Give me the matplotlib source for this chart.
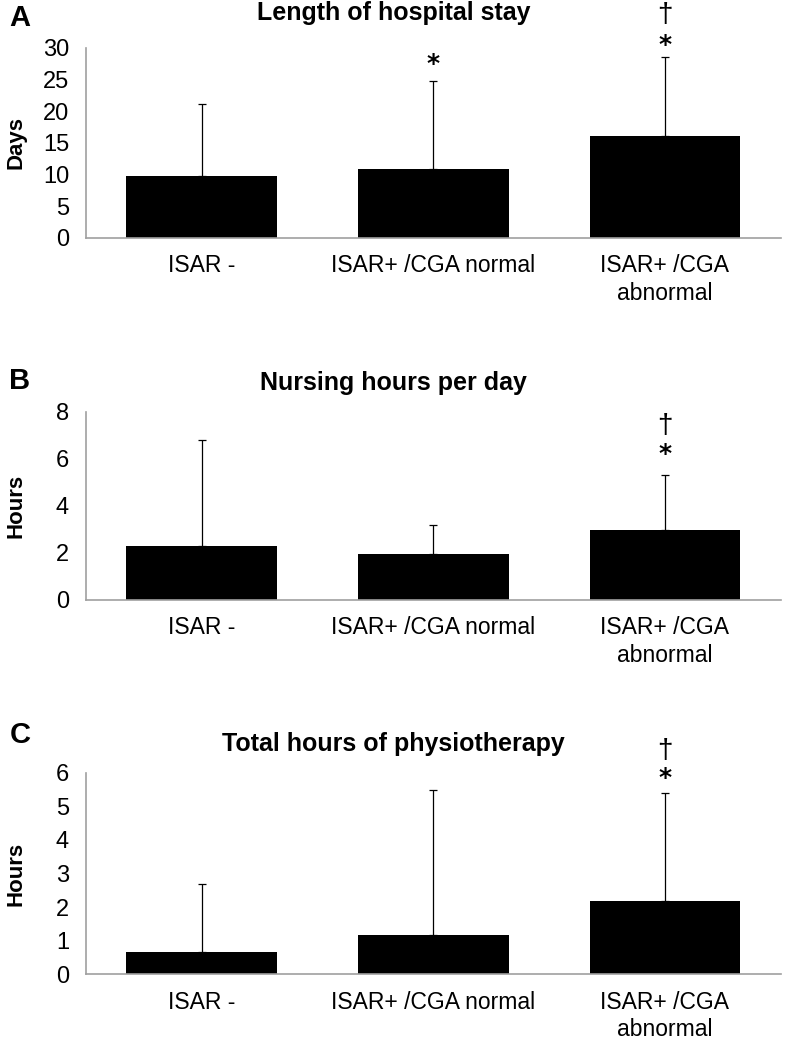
import matplotlib
matplotlib.use("Agg")
import matplotlib.pyplot as plt
import numpy as np

plt.rcParams['font.family'] = ['Liberation Sans', 'DejaVu Sans']

groups = ["ISAR -", "ISAR+ /CGA normal", "ISAR+ /CGA\nabnormal"]

# panel A: length of hospital stay (days)
stay_mean = [9.7, 10.9, 16.1]
stay_upper = [21.1, 24.8, 28.6]
# panel B: nursing hours per day
nurse_mean = [2.3, 1.95, 2.95]
nurse_upper = [6.8, 3.2, 5.3]
# panel C: total hours of physiotherapy
physio_mean = [0.65, 1.17, 2.17]
physio_upper = [2.68, 5.5, 5.4]

panels = [
    ("A", "Length of hospital stay", "Days", stay_mean, stay_upper, 30, 5,
     {1: [("*", 27.4)], 2: [("*", 30.4), ("\u2020", 35.2)]}),
    ("B", "Nursing hours per day", "Hours", nurse_mean, nurse_upper, 8, 2,
     {2: [("*", 6.2), ("\u2020", 7.4)]}),
    ("C", "Total hours of physiotherapy", "Hours", physio_mean, physio_upper, 6, 1,
     {2: [("*", 5.85), ("\u2020", 6.65)]}),
]

# [left, bottom, width, height] in figure fractions
boxes = [[0.109, 0.772, 0.883, 0.182],
         [0.109, 0.425, 0.883, 0.180],
         [0.109, 0.066, 0.883, 0.193]]
title_y = [0.988, 0.633, 0.287]
letter_y = [0.983, 0.635, 0.295]

fig = plt.figure(figsize=(7.87, 10.43), dpi=100)

for (letter, title, ylab, mean, upper, ymax, step, marks), box, ty, ly in zip(panels, boxes, title_y, letter_y):
    ax = fig.add_axes(box)
    x = np.arange(len(groups))
    mean = np.array(mean)
    upper = np.array(upper)
    ax.bar(x, mean, width=0.65, color="black")
    ax.errorbar(x, mean, yerr=[np.zeros(len(x)), upper - mean], fmt="none",
                ecolor="black", elinewidth=0.9, capsize=3, capthick=0.9)
    ax.set_xlim(-0.5, 2.5)
    ax.set_ylim(0, ymax)
    ax.set_yticks(np.arange(0, ymax + 0.01, step))
    ax.set_xticks(x)
    ax.set_xticklabels(groups, fontsize=16.5, linespacing=1.25)
    ax.tick_params(axis="y", labelsize=17, length=0, pad=12)
    ax.tick_params(axis="x", length=0, pad=12)
    for s in ["top", "right"]:
        ax.spines[s].set_visible(False)
    for s in ["left", "bottom"]:
        ax.spines[s].set_color("#a0a0a0")
        ax.spines[s].set_linewidth(1.2)
    ax.set_ylabel(ylab, fontsize=16, fontweight="bold")
    ax.yaxis.set_label_coords(-0.085, 0.5)
    for i, items in marks.items():
        for sym, yv in items:
            if sym == "*":
                ax.text(x[i], yv, sym, ha="center", va="center", fontsize=18,
                        fontweight="bold", clip_on=False, family=['DejaVu Sans'])
            else:
                ax.text(x[i], yv, sym, ha="center", va="center", fontsize=20,
                        clip_on=False)
    fig.text(0.5, ty, title, ha="center", va="center", fontsize=18, fontweight="bold")
    fig.text(0.012, ly, letter, ha="left", va="center", fontsize=21, fontweight="bold")

fig.savefig("out.png", dpi=100)
